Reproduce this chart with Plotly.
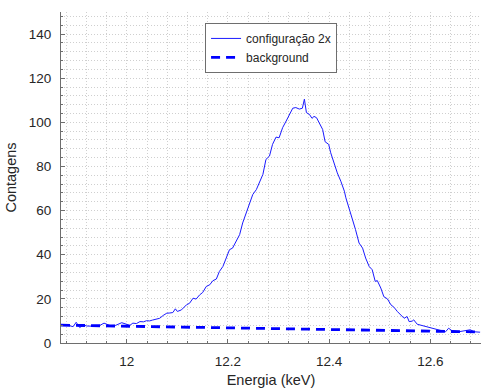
import plotly.graph_objects as go

# Spectrum "configuração 2x" (energy in keV, counts)
energia = [11.870, 11.884, 11.894, 11.900, 11.907, 11.914, 11.921, 11.935, 11.947, 11.955,
           11.967, 11.978, 11.990, 12.000, 12.006, 12.012, 12.019, 12.026, 12.033, 12.039,
           12.045, 12.051, 12.058, 12.065, 12.072, 12.079, 12.085, 12.091, 12.096, 12.100,
           12.108, 12.118, 12.124, 12.131, 12.137, 12.144, 12.150, 12.157, 12.164, 12.170,
           12.177, 12.183, 12.190, 12.196, 12.203, 12.209, 12.216, 12.223, 12.229, 12.236,
           12.242, 12.249, 12.256, 12.262, 12.269, 12.275, 12.282, 12.288, 12.295, 12.301,
           12.308, 12.315, 12.321, 12.328, 12.334, 12.341, 12.347, 12.351, 12.355, 12.361,
           12.366, 12.370, 12.375, 12.380, 12.387, 12.392, 12.399, 12.403, 12.410, 12.416,
           12.423, 12.430, 12.433, 12.439, 12.446, 12.452, 12.459, 12.466, 12.472, 12.479,
           12.485, 12.491, 12.495, 12.502, 12.508, 12.515, 12.522, 12.528, 12.535, 12.541,
           12.548, 12.554, 12.558, 12.564, 12.567, 12.574, 12.584, 12.594, 12.604, 12.617,
           12.630, 12.636, 12.643, 12.656, 12.669, 12.679, 12.686, 12.698]
contagens = [8.2, 8.0, 7.4, 9.4, 7.0, 8.2, 7.7, 7.6, 8.0, 9.0,
             7.9, 8.0, 9.2, 8.5, 8.0, 9.0, 8.8, 9.7, 9.6, 10.1,
             10.0, 10.4, 10.8, 11.2, 12.5, 13.5, 13.6, 13.8, 15.5, 14.3,
             15.0, 17.3, 18.0, 20.3, 19.9, 21.8, 22.9, 25.6, 26.4, 28.2,
             29.0, 32.4, 34.7, 38.5, 42.3, 43.0, 46.0, 49.1, 54.4, 59.0,
             62.0, 67.3, 69.5, 72.6, 76.4, 83.2, 84.7, 90.0, 93.3, 93.0,
             97.6, 100.6, 103.6, 106.4, 106.7, 106.0, 106.4, 110.5, 104.4, 103.6,
             101.8, 102.7, 102.1, 99.9, 96.8, 91.2, 90.0, 86.2, 80.9, 77.1,
             73.3, 68.8, 65.8, 61.2, 56.7, 51.4, 45.3, 43.0, 38.5, 34.7,
             33.2, 27.9, 28.3, 24.9, 21.0, 20.0, 17.3, 16.2, 14.2, 12.7,
             11.2, 12.0, 9.7, 9.9, 10.5, 8.5, 7.9, 7.0, 6.7, 5.9,
             5.1, 6.7, 5.5, 5.1, 5.5, 6.0, 5.1, 4.9]

# Linear background
energia_bg = [11.870, 12.700]
contagens_bg = [8.1, 5.0]

x_ticks = [12.0, 12.2, 12.4, 12.6]
x_ticktext = ["12", "12.2", "12.4", "12.6"]
y_ticks = [0, 20, 40, 60, 80, 100, 120, 140]

FONT = "Liberation Sans, Arial, sans-serif"
TXT = "#262626"
AX = "#6e6e6e"
GRID = "#cfcfcf"

fig = go.Figure()
fig.add_trace(go.Scatter(
    x=energia, y=contagens, mode="lines", name="configuração 2x",
    line=dict(color="#1a1aff", width=1)))
fig.add_trace(go.Scatter(
    x=energia_bg, y=contagens_bg, mode="lines", name="background",
    line=dict(color="#0000ff", width=2.8, dash="9px,6px")))

fig.update_layout(
    width=481, height=388,
    margin=dict(l=61, r=0, t=12, b=45),
    paper_bgcolor="white", plot_bgcolor="white",
    font=dict(family=FONT, color=TXT, size=13.5),
    showlegend=True,
    legend=dict(x=0.343, y=0.967, xanchor="left", yanchor="top",
                bgcolor="white", bordercolor=AX, borderwidth=1,
                font=dict(family=FONT, size=12, color=TXT),
                tracegroupgap=0),
    xaxis=dict(
        range=[11.87, 12.70],
        tickvals=x_ticks, ticktext=x_ticktext,
        showline=True, linecolor=AX, linewidth=1, mirror=False,
        ticks="inside", ticklen=4, tickcolor=AX,
        showgrid=True, gridcolor=GRID, griddash="1px,2px", gridwidth=1,
        zeroline=False,
        minor=dict(dtick=0.04, tick0=12.0, showgrid=True, gridcolor=GRID,
                   griddash="1px,2px", ticks="inside", ticklen=2, tickcolor=AX),
        title=dict(text="Energia (keV)", font=dict(size=14.5, color=TXT), standoff=6),
        tickfont=dict(size=13.5, color=TXT),
        ticklabelstandoff=6,
        automargin=False,
    ),
    yaxis=dict(
        range=[0, 150],
        tickvals=y_ticks,
        showline=True, linecolor=AX, linewidth=1, mirror=False,
        ticks="inside", ticklen=4, tickcolor=AX,
        showgrid=True, gridcolor=GRID, griddash="1px,2px", gridwidth=1,
        zeroline=False,
        minor=dict(dtick=4, tick0=0, showgrid=True, gridcolor=GRID,
                   griddash="1px,2px", ticks="inside", ticklen=2, tickcolor=AX),
        title=dict(text="Contagens", font=dict(size=14.5, color=TXT), standoff=8),
        tickfont=dict(size=13.5, color=TXT),
        ticklabelstandoff=6,
        automargin=False,
    ),
)

fig.write_html("out.html",
               config={"displayModeBar": False},
               post_script="document.body.style.margin='0';document.body.style.overflow='hidden';")
